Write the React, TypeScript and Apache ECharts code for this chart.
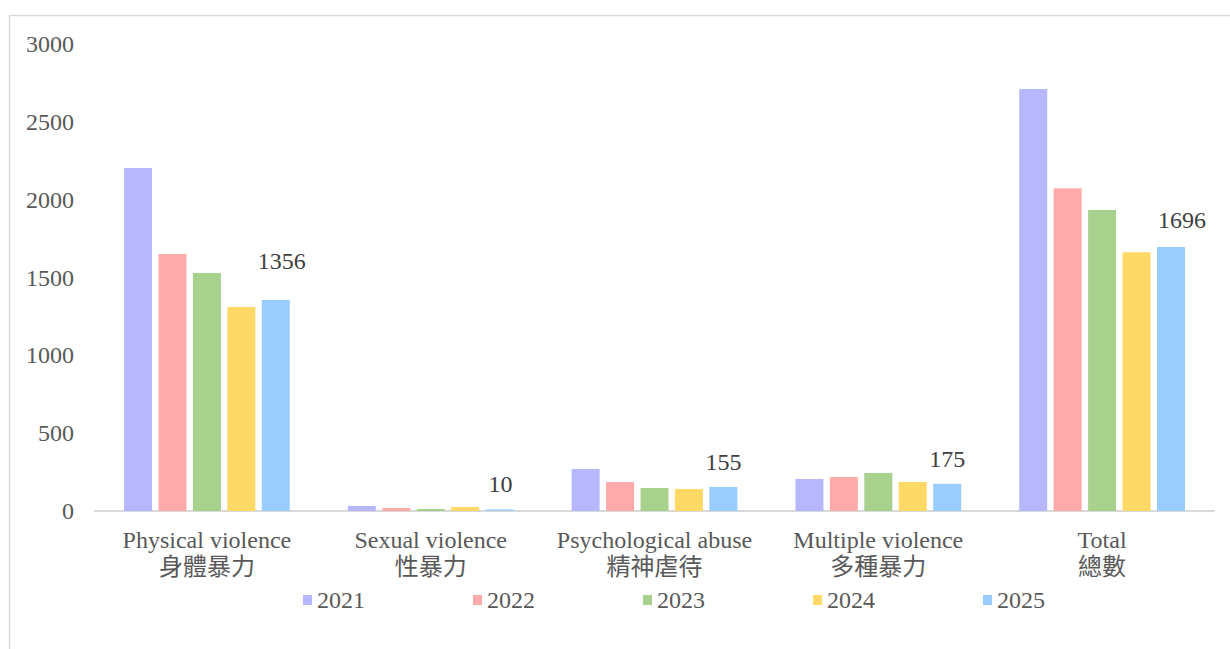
import React, { useEffect, useRef } from "react";
import * as echarts from "echarts";

const categories = [
  "Physical violence\n身體暴力",
  "Sexual violence\n性暴力",
  "Psychological abuse\n精神虐待",
  "Multiple violence\n多種暴力",
  "Total\n總數",
];
const years = ["2021", "2022", "2023", "2024", "2025"];
const values2021 = [2203, 32, 270, 206, 2711];
const values2022 = [1651, 19, 186, 218, 2074];
const values2023 = [1529, 13, 148, 244, 1934];
const values2024 = [1310, 26, 141, 186, 1663];
const values2025 = [1356, 10, 155, 175, 1696];
const yTicks = { min: 0, max: 3000, interval: 500 };

const colors = ["#B7B7FF", "#FFAAAA", "#A9D18E", "#FFD966", "#99CCFF"];
// label placement tweaks for the 2025 value labels (style only)
const labelDistances = [27, 13, 13, 13, 15];
const labelOffsetsX = [6, 1, 0, 0, 11];

const FONT = "'Liberation Serif', 'Times New Roman', 'Noto Sans CJK TC', serif";
const FS = 24;

export default function App() {
  const ref = useRef<HTMLDivElement>(null);
  useEffect(() => {
    if (!ref.current) return;
    const chart = echarts.init(ref.current, null, { renderer: "svg" });
    const allSeries = [values2021, values2022, values2023, values2024, values2025];
    const series = allSeries.map((vals, i) => {
      const isLast = i === allSeries.length - 1;
      return {
        name: years[i],
        type: "bar",
        barWidth: 28,
        barGap: "23%",
        itemStyle: { color: colors[i] },
        data: isLast
          ? vals.map((v, j) => ({
              value: v,
              label: {
                show: true,
                position: "top",
                distance: labelDistances[j],
                offset: [labelOffsetsX[j], 0],
                color: "#404040",
                fontSize: FS,
                fontFamily: FONT,
              },
            }))
          : vals,
      };
    });
    chart.setOption({
      animation: false,
      backgroundColor: "#ffffff",
      textStyle: { fontFamily: FONT },
      graphic: [
        {
          type: "rect",
          shape: { x: 9.5, y: 15.5, width: 1240, height: 700 },
          style: { fill: "none", stroke: "#D9D9D9", lineWidth: 1.5 },
          silent: true,
        },
      ],
      grid: { left: 95, right: 16, top: 44, bottom: 138, containLabel: false },
      legend: {
        data: years,
        left: 298,
        top: 583,
        itemWidth: 9,
        itemHeight: 10,
        itemGap: 108,
        icon: "rect",
        textStyle: { color: "#595959", fontSize: FS, fontFamily: FONT },
      },
      xAxis: {
        type: "category",
        data: categories,
        axisLine: { show: true, lineStyle: { color: "#D9D9D9", width: 2 } },
        axisTick: { show: false },
        axisLabel: {
          color: "#595959",
          fontSize: FS,
          fontFamily: FONT,
          lineHeight: 27,
          margin: 15,
          interval: 0,
        },
      },
      yAxis: {
        type: "value",
        min: yTicks.min,
        max: yTicks.max,
        interval: yTicks.interval,
        axisLine: { show: false },
        axisTick: { show: false },
        splitLine: { show: false },
        axisLabel: {
          color: "#595959",
          fontSize: FS,
          fontFamily: FONT,
          margin: 21,
          formatter: (v: number) => String(v),
        },
      },
      series,
    });
    return () => chart.dispose();
  }, []);
  return (
    <div
      ref={ref}
      style={{ position: "fixed", left: 0, top: 0, width: 1230, height: 649, background: "#fff" }}
    />
  );
}
